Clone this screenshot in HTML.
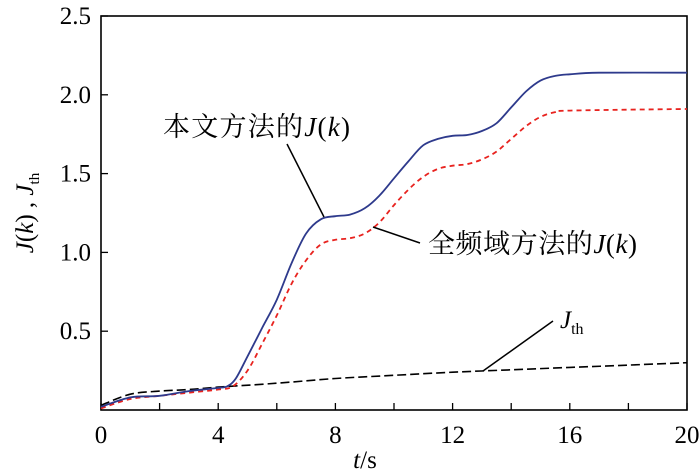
<!DOCTYPE html>
<html><head><meta charset="utf-8"><style>
html,body{margin:0;padding:0;background:#fff;}
svg{display:block;font-family:"Liberation Serif","Noto Serif CJK SC",serif;}
</style></head><body>
<svg id="chart" width="700" height="472" viewBox="0 0 700 472">
<g id="axes"></g><g id="series"></g><g id="ann"></g>
</svg>
<script>
const xTicks=[0,4,8,12,16,20];
const xMinor=[2,6,10,14,18];
const yTicks=[0.5,1.0,1.5,2.0,2.5];
const yTickLabels=["0.5","1.0","1.5","2.0","2.5"];
const tOurs=[0,1,2,3,4,4.3,4.6,5,5.5,6,6.5,7,7.5,8,8.5,9,9.5,10,10.5,11,11.5,12,12.5,13,13.5,14,14.5,15,15.5,16,17,20];
const vOurs=[0.02,0.08,0.09,0.12,0.14,0.15,0.2,0.34,0.52,0.70,0.93,1.12,1.21,1.23,1.24,1.28,1.36,1.47,1.58,1.68,1.72,1.74,1.745,1.77,1.82,1.92,2.02,2.09,2.12,2.13,2.14,2.14];
const tFull=[0,1,2,3,4,4.5,5,5.5,6,6.5,7,7.5,8,8.5,9,9.5,10,10.5,11,11.5,12,12.5,13,13.5,14,14.5,15,15.5,16,20];
const vFull=[0.01,0.07,0.09,0.11,0.13,0.15,0.25,0.42,0.60,0.80,0.95,1.05,1.08,1.09,1.12,1.19,1.30,1.40,1.48,1.53,1.55,1.56,1.59,1.64,1.72,1.80,1.86,1.89,1.90,1.91];
const tTh=[0,1,2,3,4,6,8,10,12,14,16,18,20];
const vTh=[0.03,0.10,0.12,0.13,0.145,0.17,0.20,0.22,0.24,0.255,0.27,0.285,0.30];

const X0=101,X1=687,Y0=410,Y1=16;
const sx=t=>X0+(t-0)/20*(X1-X0);
const sy=v=>Y0-v/2.5*(Y0-Y1);
const NS="http://www.w3.org/2000/svg";
function mk(tag,attrs,parent){const e=document.createElementNS(NS,tag);for(const k in attrs)e.setAttribute(k,attrs[k]);parent.appendChild(e);return e;}
const axes=document.getElementById('axes'),series=document.getElementById('series'),ann=document.getElementById('ann');

const frame=mk('rect',{x:X0,y:Y1,width:X1-X0,height:Y0-Y1,fill:'none',stroke:'#000','stroke-width':1.6},axes);


xTicks.forEach(t=>{
  const l=mk('line',{x1:sx(t),x2:sx(t),y1:Y0,y2:Y0-7,stroke:'#000','stroke-width':1.3},axes);
  
  
  const tx=mk('text',{x:sx(t),y:443,'font-size':25,'text-anchor':'middle'},axes);tx.textContent=String(t);
  
  
});
xMinor.forEach(t=>{
  const l=mk('line',{x1:sx(t),x2:sx(t),y1:Y0,y2:Y0-7,stroke:'#000','stroke-width':1.3},axes);
  
  
});
yTicks.forEach((v,i)=>{
  const l=mk('line',{x1:X0,x2:X0+7,y1:sy(v),y2:sy(v),stroke:'#000','stroke-width':1.3},axes);
  
  
  const tx=mk('text',{x:X0-10,y:sy(v)+8,'font-size':25,'text-anchor':'end'},axes);tx.textContent=yTickLabels[i];
  
  
});
const xt=mk('text',{x:365,y:468,'font-size':25,'text-anchor':'middle'},axes);
xt.innerHTML='<tspan font-style="italic">t</tspan>/s';


const yt=mk('text',{x:0,y:0,'font-size':25,'text-anchor':'middle',transform:'translate(33,213) rotate(-90)'},axes);
yt.innerHTML='<tspan font-style="italic">J</tspan>(<tspan font-style="italic">k</tspan>) , <tspan font-style="italic">J</tspan><tspan font-size="15" dy="6">th</tspan>';



function pathFor(ts,vs){
  const p=ts.map((t,i)=>[sx(t),sy(vs[i])]);
  let d='M'+p[0][0].toFixed(1)+','+p[0][1].toFixed(1);
  for(let i=0;i<p.length-1;i++){
    const p0=p[Math.max(0,i-1)],p1=p[i],p2=p[i+1],p3=p[Math.min(p.length-1,i+2)];
    const c1x=p1[0]+(p2[0]-p0[0])/6,c1y=p1[1]+(p2[1]-p0[1])/6;
    const c2x=p2[0]-(p3[0]-p1[0])/6,c2y=p2[1]-(p3[1]-p1[1])/6;
    d+=' C'+c1x.toFixed(1)+','+c1y.toFixed(1)+' '+c2x.toFixed(1)+','+c2y.toFixed(1)+' '+p2[0].toFixed(1)+','+p2[1].toFixed(1);
  }
  return d;
}
const pTh=mk('path',{d:pathFor(tTh,vTh),fill:'none',stroke:'#000','stroke-width':1.6,'stroke-dasharray':'9,4'},series);


const pFull=mk('path',{d:pathFor(tFull,vFull),fill:'none',stroke:'#e8231f','stroke-width':1.8,'stroke-dasharray':'5,4','stroke-linejoin':'round'},series);


const pOurs=mk('path',{d:pathFor(tOurs,vOurs),fill:'none',stroke:'#2e3a8c','stroke-width':1.8,'stroke-linejoin':'round'},series);



function leader(x1,y1,x2,y2,name){const l=mk('line',{x1,y1,x2,y2,stroke:'#000','stroke-width':1.5},ann);
  
  }
leader(287,144,324,217,'proposed-leader-line');
leader(373,227,420,243,'full-band-leader-line');
leader(483,371,553,321,'jth-leader-line');
const a1=mk('text',{x:163,y:136,'font-size':27,textLength:187},ann);
a1.innerHTML='本文方法的<tspan font-style="italic">J</tspan>(<tspan font-style="italic">k</tspan>)';


const a2=mk('text',{x:428,y:253,'font-size':27,textLength:209},ann);
a2.innerHTML='全频域方法的<tspan font-style="italic">J</tspan>(<tspan font-style="italic">k</tspan>)';


const a3=mk('text',{x:560,y:328,'font-size':25},ann);
a3.innerHTML='<tspan font-style="italic">J</tspan><tspan font-size="16" dy="6">th</tspan>';


</script>
</body></html>
